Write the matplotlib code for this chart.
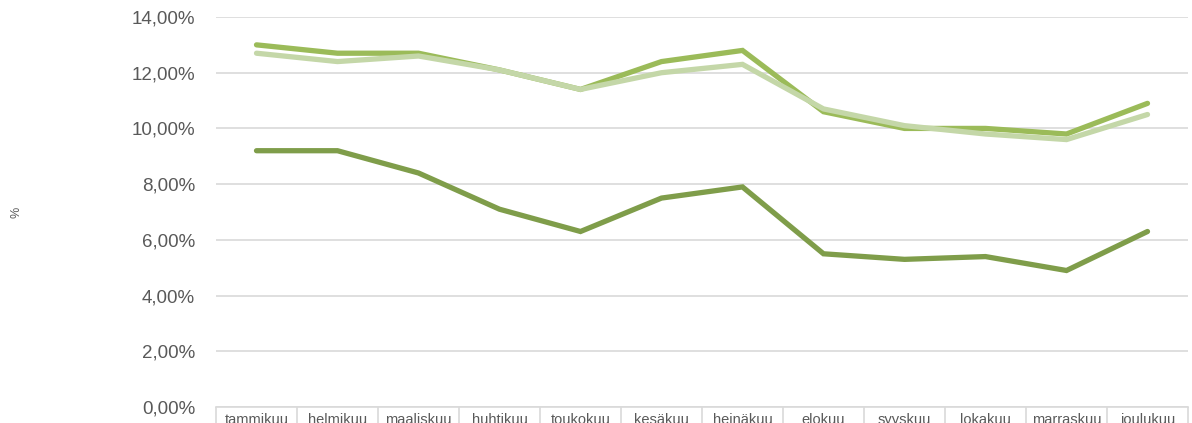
import matplotlib
matplotlib.use('Agg')
import matplotlib.pyplot as plt
import numpy as np
from matplotlib.ticker import FuncFormatter

plt.rcParams['font.family'] = ['Liberation Sans', 'DejaVu Sans']

months = ["tammikuu", "helmikuu", "maaliskuu", "huhtikuu", "toukokuu", "kesäkuu",
          "heinäkuu", "elokuu", "syyskuu", "lokakuu", "marraskuu", "joulukuu"]

# values in percent
series_bright = [13.0, 12.7, 12.7, 12.1, 11.4, 12.4, 12.8, 10.6, 10.0, 10.0, 9.8, 10.9]
series_light = [12.7, 12.4, 12.6, 12.1, 11.4, 12.0, 12.3, 10.7, 10.1, 9.8, 9.6, 10.5]
series_dark = [9.2, 9.2, 8.4, 7.1, 6.3, 7.5, 7.9, 5.5, 5.3, 5.4, 4.9, 6.3]

grid_col = '#D9D9D9'
text_col = '#595959'

fig = plt.figure(figsize=(11.92, 4.23), dpi=100)
ax = fig.add_axes([216/1192, 1 - 407/423, 972/1192, 390/423])

x = np.arange(len(months))
ax.plot(x, series_dark, color='#7F9D4A', lw=3.8, solid_capstyle='round', solid_joinstyle='miter', zorder=3)
ax.plot(x, series_bright, color='#9BBB59', lw=3.8, solid_capstyle='round', solid_joinstyle='miter', zorder=3)
ax.plot(x, series_light, color='#C4D7A8', lw=3.8, solid_capstyle='round', solid_joinstyle='miter', zorder=3)

ax.set_xlim(-0.5, len(months) - 0.5)
ax.set_ylim(0, 14)
ax.set_yticks(np.arange(0, 15, 2))
ax.yaxis.set_major_formatter(FuncFormatter(lambda v, p: f"{v:.2f}".replace('.', ',') + '%'))
ax.grid(axis='y', color=grid_col, lw=1.2)
ax.set_axisbelow(True)

ax.set_xticks(x)
ax.set_xticklabels(months)
ax.set_xticks(np.arange(-0.5, len(months)), minor=True)
ax.tick_params(axis='x', which='major', length=0, pad=4, labelsize=10.5, labelcolor=text_col)
ax.tick_params(axis='x', which='minor', length=20, width=1.2, color=grid_col, direction='out')
ax.tick_params(axis='y', length=0, pad=15, labelsize=13.5, labelcolor=text_col)

for s in ['top', 'right', 'left']:
    ax.spines[s].set_visible(False)
ax.spines['bottom'].set_color(grid_col)
ax.spines['bottom'].set_linewidth(1.2)

fig.text(16/1192, 1 - 212/423, '%', rotation=90, ha='center', va='center', fontsize=9, color=text_col)

fig.savefig('out.png', dpi=100)
